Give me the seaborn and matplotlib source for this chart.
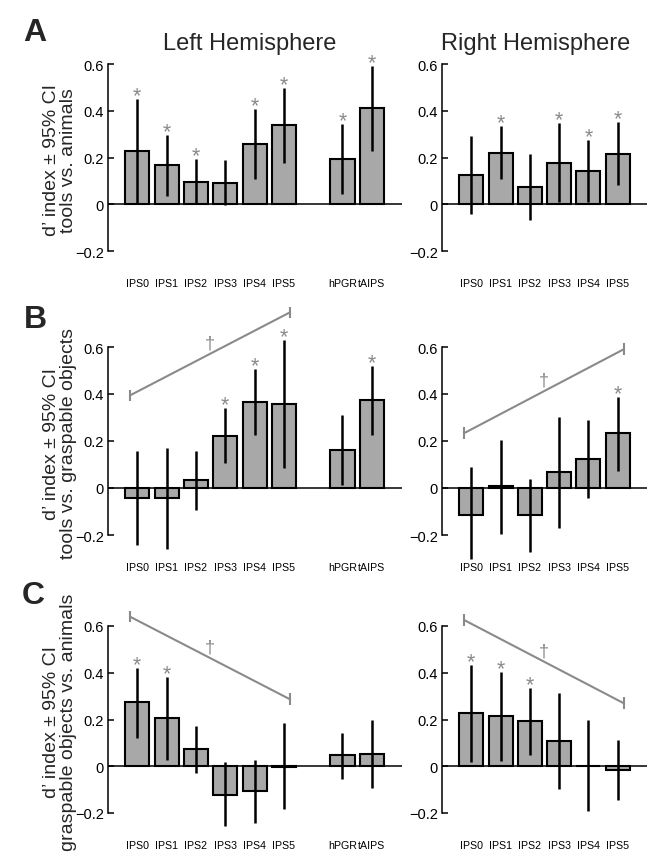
import numpy as np
import pandas as pd
import matplotlib
matplotlib.use("Agg")
import matplotlib.pyplot as plt
import seaborn as sns

sns.set_style("white")
plt.rcParams['font.family'] = ['Liberation Sans', 'DejaVu Sans']

# ---------------- data ----------------
ips = ["IPS0", "IPS1", "IPS2", "IPS3", "IPS4", "IPS5"]
extra = ["hPGR", "tAIPS"]
left_regions = ips + extra
right_regions = ips

row_ylabels = ["d\u2019 index \u00b1 95% CI\ntools vs. animals",
               "d\u2019 index \u00b1 95% CI\ntools vs. graspable objects",
               "d\u2019 index \u00b1 95% CI\ngraspable objects vs. animals"]
panel_letters = ["A", "B", "C"]
col_titles = ["Left Hemisphere", "Right Hemisphere"]

yticks = [-0.2, 0, 0.2, 0.4, 0.6]
yticklabels = ["\u22120.2", "0", "0.2", "0.4", "0.6"]

# Row A: tools vs animals
A_left_mean = [0.229, 0.167, 0.096, 0.093, 0.259, 0.339, 0.193, 0.410]
A_left_lo   = [0.005, 0.035, 0.000, -0.003, 0.110, 0.176, 0.043, 0.226]
A_left_hi   = [0.450, 0.296, 0.193, 0.189, 0.407, 0.496, 0.343, 0.593]
A_left_sig  = [1, 1, 1, 0, 1, 1, 1, 1]

A_right_mean = [0.125, 0.220, 0.075, 0.177, 0.142, 0.217]
A_right_lo   = [-0.043, 0.106, -0.067, 0.010, 0.010, 0.081]
A_right_hi   = [0.291, 0.333, 0.217, 0.348, 0.274, 0.353]
A_right_sig  = [0, 1, 0, 1, 1, 1]

# Row B: tools vs graspable objects
B_left_mean = [-0.043, -0.043, 0.034, 0.223, 0.366, 0.357, 0.162, 0.374]
B_left_lo   = [-0.243, -0.260, -0.092, 0.105, 0.226, 0.085, 0.013, 0.227]
B_left_hi   = [0.159, 0.172, 0.159, 0.340, 0.505, 0.629, 0.312, 0.520]
B_left_sig  = [0, 0, 0, 1, 1, 1, 0, 1]
B_left_trend = [0.394, 0.747]

B_right_mean = [-0.113, 0.007, -0.117, 0.066, 0.123, 0.232]
B_right_lo   = [-0.301, -0.195, -0.273, -0.170, -0.041, 0.074]
B_right_hi   = [0.088, 0.205, 0.038, 0.303, 0.289, 0.389]
B_right_sig  = [0, 0, 0, 0, 0, 1]
B_right_trend = [0.233, 0.590]

# Row C: graspable objects vs animals
C_left_mean = [0.273, 0.206, 0.074, -0.121, -0.108, -0.003, 0.047, 0.054]
C_left_lo   = [0.120, 0.028, -0.030, -0.257, -0.243, -0.182, -0.055, -0.095]
C_left_hi   = [0.421, 0.380, 0.174, 0.017, 0.027, 0.183, 0.143, 0.197]
C_left_sig  = [1, 1, 0, 0, 0, 0, 0, 0]
C_left_trend = [0.640, 0.287]

C_right_mean = [0.226, 0.216, 0.192, 0.110, 0.003, -0.016]
C_right_lo   = [0.017, 0.024, 0.046, -0.097, -0.192, -0.144]
C_right_hi   = [0.432, 0.405, 0.334, 0.312, 0.198, 0.112]
C_right_sig  = [1, 1, 1, 0, 0, 0]
C_right_trend = [0.626, 0.270]

# ---------------- style ----------------
BAR = "#a8a8a8"
GRAY = "#8a8a8a"
GAP = " "
left_order = ips + [GAP] + extra
right_order = ips

W, H = 672, 862
fig = plt.figure(figsize=(W / 100, H / 100), dpi=100)


def px_rect(x0, x1, ytop, ybot):
    return [x0 / W, 1 - ybot / H, (x1 - x0) / W, (ybot - ytop) / H]


def draw(ax, regions, order, mean, lo, hi, sig, trend, xmax):
    df = pd.DataFrame({"region": regions, "d": mean})
    sns.barplot(data=df, x="region", y="d", order=order, ax=ax, color=BAR,
                saturation=1, width=0.82, edgecolor="black", linewidth=1.5,
                errorbar=None, zorder=2)
    pos = np.array([order.index(r) for r in regions])
    ax.vlines(pos, lo, hi, color="black", lw=1.8, zorder=3, clip_on=False)
    for p, h, s in zip(pos, hi, sig):
        if s:
            ax.text(p, h + 0.014, "*", ha="center", va="center", color=GRAY,
                    fontsize=15.5, clip_on=False)
    ax.axhline(0, color="black", lw=1.1, zorder=1)
    if trend is not None:
        x0 = pos[0] - 0.25
        x1 = pos[len(ips) - 1] + 0.2
        y0, y1 = trend
        ax.plot([x0, x1], [y0, y1], color=GRAY, lw=1.5, clip_on=False, zorder=4)
        ax.vlines([x0, x1], [y0 - 0.025, y1 - 0.025], [y0 + 0.025, y1 + 0.025],
                  color=GRAY, lw=1.5, clip_on=False, zorder=4)
        ax.text((x0 + x1) / 2, (y0 + y1) / 2 + 0.047, "\u2020", ha="center",
                va="center", color=GRAY, fontsize=13)
    ax.set_xlim(-1, xmax)
    ax.set_ylim(-0.2, 0.6)
    ax.set_yticks(yticks)
    ax.set_yticklabels(yticklabels)
    ax.set_xlabel("")
    ax.set_ylabel("")
    for sp in ["top", "right", "bottom"]:
        ax.spines[sp].set_visible(False)
    ax.spines["left"].set_linewidth(1.1)
    ax.spines["left"].set_color("black")
    ax.tick_params(axis="y", direction="in", length=4, width=1.1,
                   labelsize=10.5, pad=3, left=True, colors="black")
    ax.tick_params(axis="x", length=0, labelsize=7.7, pad=19.5, colors="black")
    ax.patch.set_alpha(0)


rows = [
    (65, 252, (A_left_mean, A_left_lo, A_left_hi, A_left_sig, None),
     (A_right_mean, A_right_lo, A_right_hi, A_right_sig, None)),
    (348, 536, (B_left_mean, B_left_lo, B_left_hi, B_left_sig, B_left_trend),
     (B_right_mean, B_right_lo, B_right_hi, B_right_sig, B_right_trend)),
    (627, 814, (C_left_mean, C_left_lo, C_left_hi, C_left_sig, C_left_trend),
     (C_right_mean, C_right_lo, C_right_hi, C_right_sig, C_right_trend)),
]

letter_xy = [(35, 33), (35, 320), (33, 596)]

for i, (ytop, ybot, L, R) in enumerate(rows):
    axl = fig.add_axes(px_rect(108, 402, ytop, ybot))
    draw(axl, left_regions, left_order, *L, xmax=9.03)
    axr = fig.add_axes(px_rect(442, 647, ytop, ybot))
    draw(axr, right_regions, right_order, *R, xmax=6.0)
    fig.text(60 / W, 1 - ((ytop + ybot) / 2 + 2) / H, row_ylabels[i], rotation=90,
             ha="center", va="center", fontsize=14, linespacing=1.05)
    lx, ly = letter_xy[i]
    fig.text(lx / W, 1 - ly / H, panel_letters[i], ha="center",
             va="center", fontsize=23, fontweight="bold")

fig.text(250 / W, 1 - 44 / H, col_titles[0], ha="center", va="center", fontsize=17)
fig.text(536 / W, 1 - 44 / H, col_titles[1], ha="center", va="center", fontsize=17)

fig.savefig("out.png", dpi=100)
